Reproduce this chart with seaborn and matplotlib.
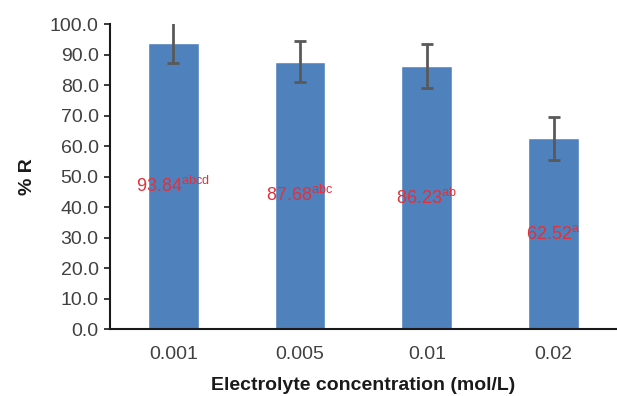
import numpy as np
import pandas as pd
import seaborn as sns
import matplotlib as mpl
mpl.use('Agg')
import matplotlib.pyplot as plt

conc = ['0.001', '0.005', '0.01', '0.02']
pct_r = [93.84, 87.68, 86.23, 62.52]
err = [6.6, 6.8, 7.1, 7.0]
letters = ['abcd', 'abc', 'ab', 'a']

sns.set_style('white')
plt.rcParams['font.family'] = ['Liberation Sans', 'DejaVu Sans']
plt.rcParams['mathtext.fontset'] = 'custom'
plt.rcParams['mathtext.rm'] = 'Liberation Sans'

df = pd.DataFrame({'conc': conc, 'R': pct_r})

fig, ax = plt.subplots(figsize=(6.17, 3.96), dpi=100)
fig.subplots_adjust(left=0.178, right=1.0, bottom=0.169, top=0.939)

sns.barplot(data=df, x='conc', y='R', color='#4F81BD', saturation=1,
            width=0.4, ax=ax)
_, caps, _ = ax.errorbar(np.arange(len(conc)), pct_r, yerr=err, fmt='none',
                         ecolor='#595959', elinewidth=2, capsize=4.5, capthick=2)
# caps above the axis top get cut off, like in the original
for c in caps:
    y = np.asarray(c.get_ydata(), dtype=float)
    c.set_ydata(np.where(y > 100, np.nan, y))

for i, (v, l) in enumerate(zip(pct_r, letters)):
    ax.text(i, v / 2, f'{v:.2f}' + r'$^{\mathrm{' + l + '}}$',
            ha='center', va='center', color='#E3303A', fontsize=13)

ax.set_ylim(0, 100)
ax.set_xlim(-0.5, 3.5)
ax.set_yticks(np.arange(0, 101, 10))
ax.set_yticklabels([f'{t:.1f}' for t in np.arange(0, 101, 10)])
ax.tick_params(axis='y', direction='out', length=4, width=1.2, colors='#1a1a1a',
               labelcolor='#404040', labelsize=14, left=True, pad=4)
ax.tick_params(axis='x', length=0, labelcolor='#404040', labelsize=14, pad=12)
for s in ['top', 'right']:
    ax.spines[s].set_visible(False)
for s in ['left', 'bottom']:
    ax.spines[s].set_color('#1a1a1a')
    ax.spines[s].set_linewidth(1.5)

ax.set_xlabel('Electrolyte concentration (mol/L)', fontsize=14,
              fontweight='bold', color='#1a1a1a', labelpad=10)
ax.set_ylabel('% R', fontsize=14, fontweight='bold', color='#1a1a1a',
              labelpad=10)

plt.savefig('out.png', dpi=100)
